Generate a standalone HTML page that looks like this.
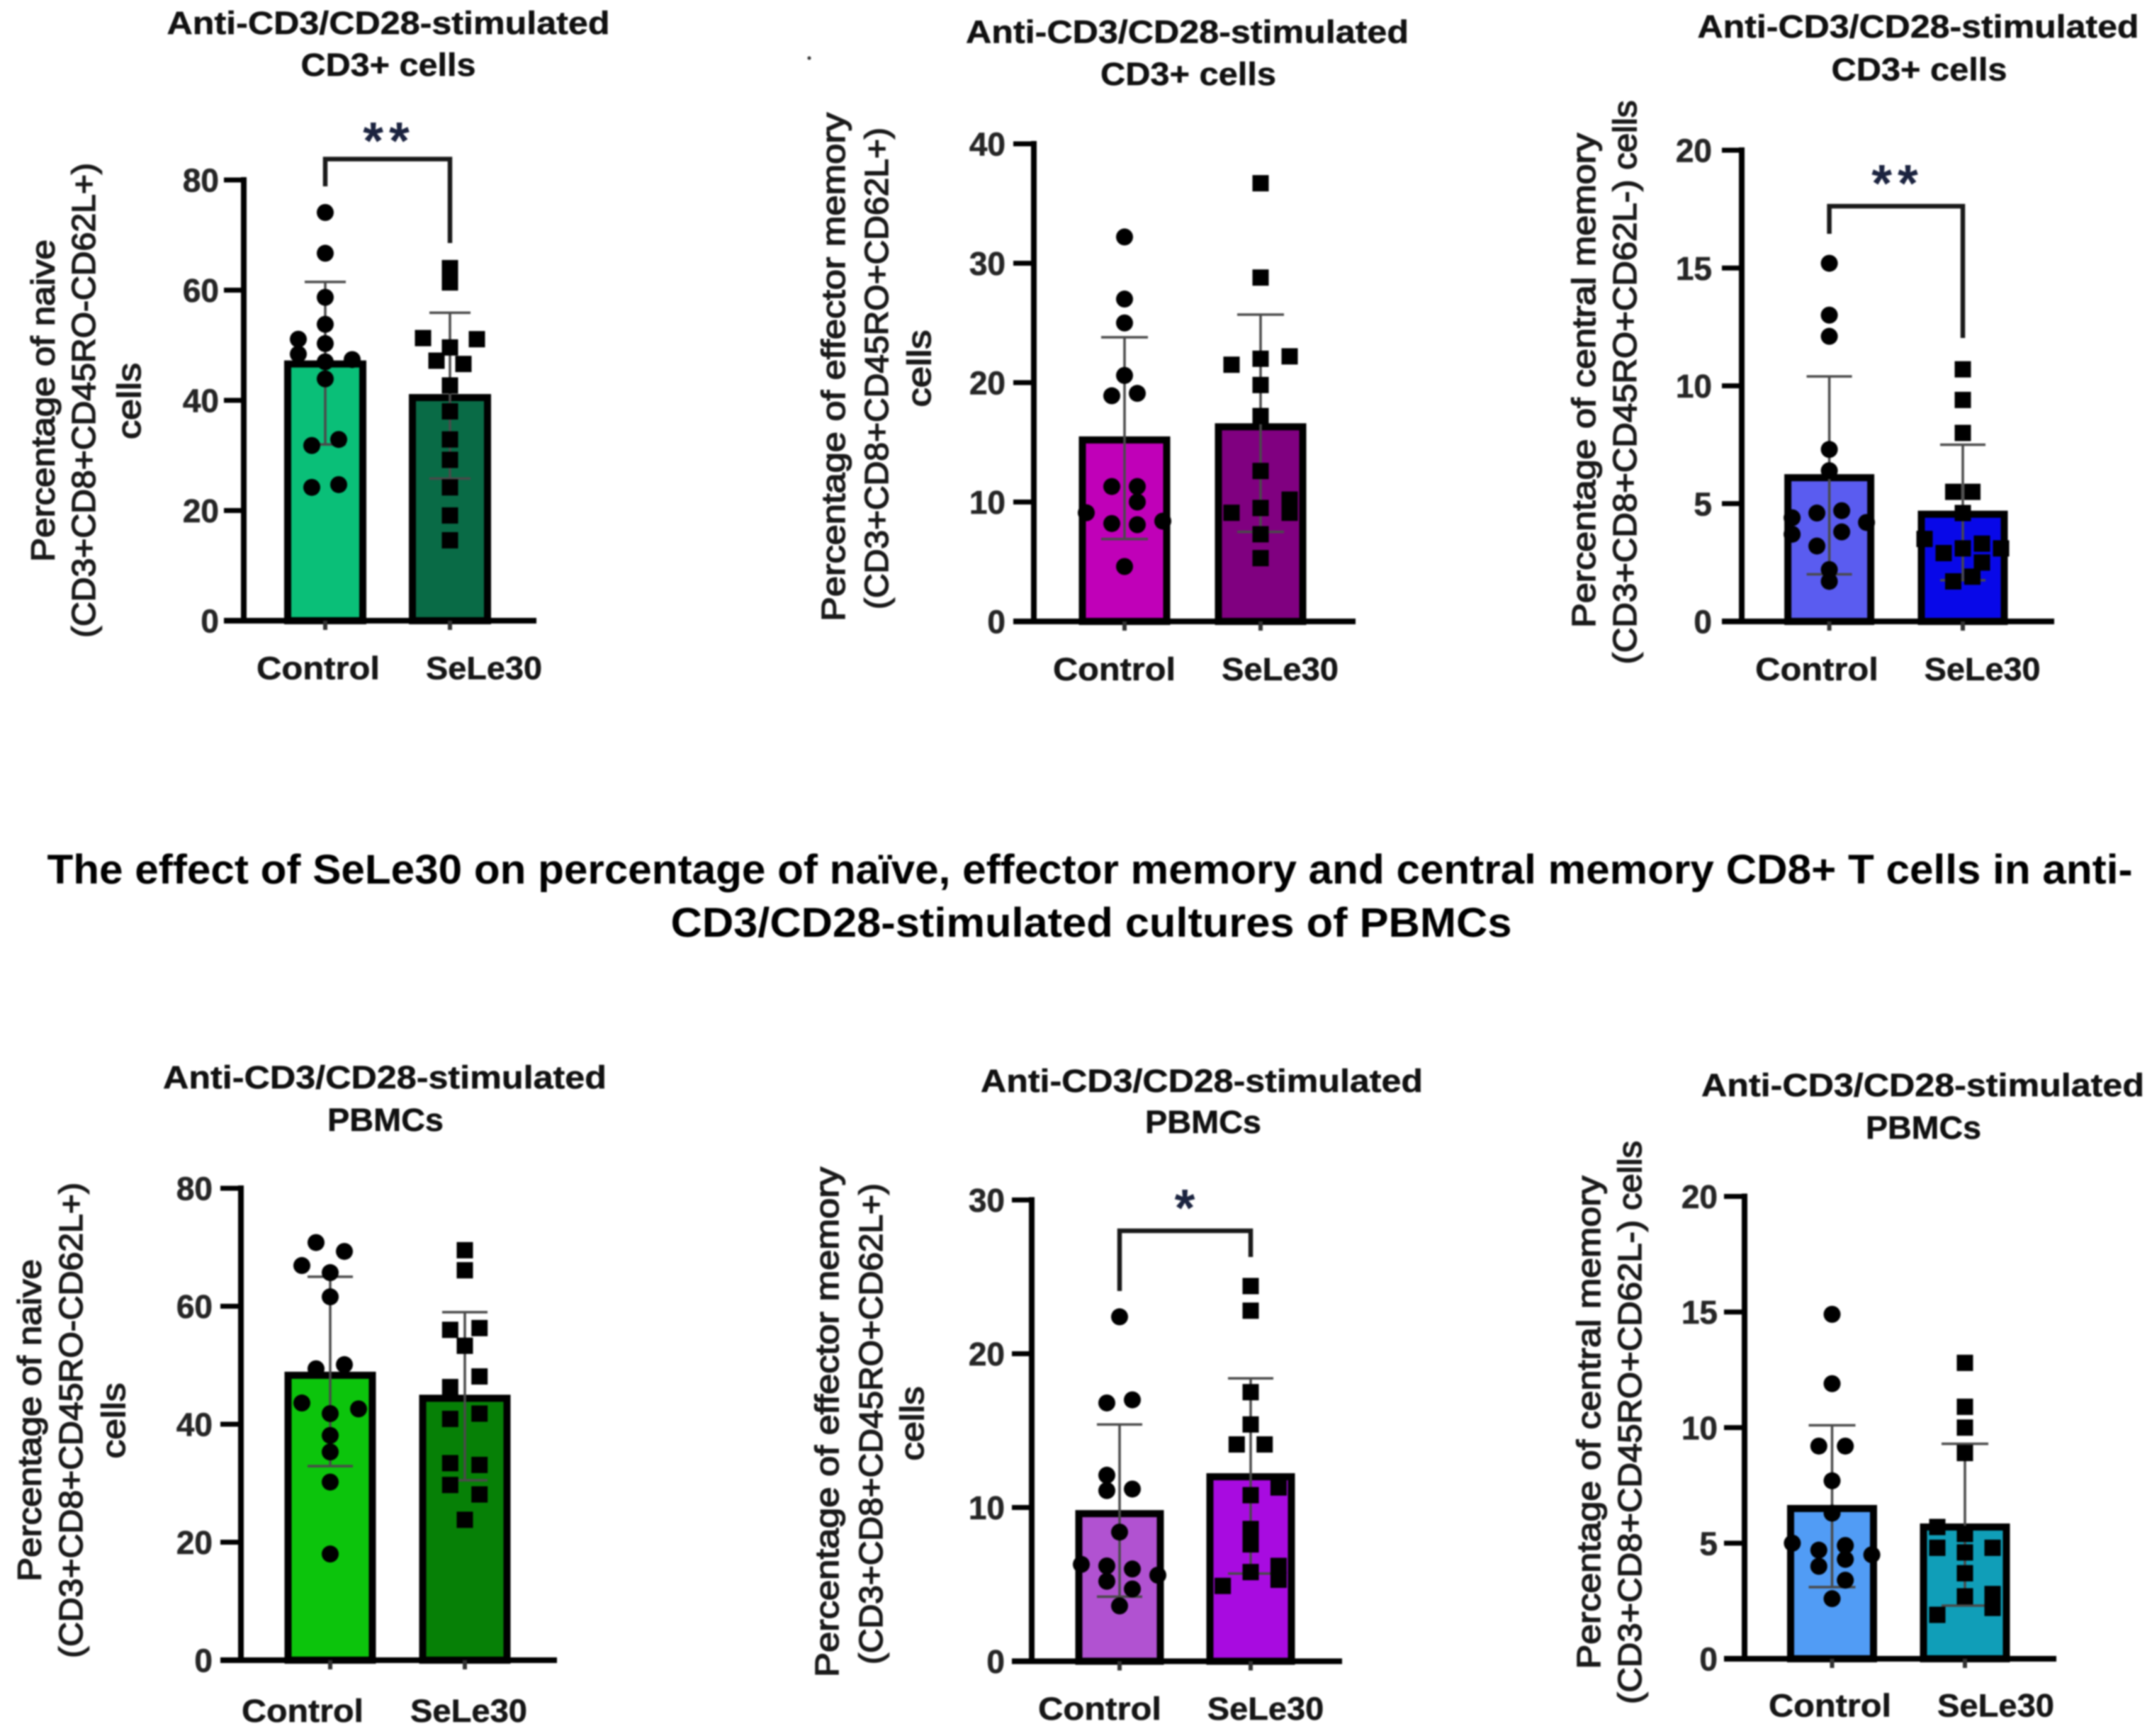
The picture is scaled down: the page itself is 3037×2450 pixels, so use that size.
<!DOCTYPE html>
<html lang="en">
<head>
<meta charset="utf-8">
<title>The effect of SeLe30 on naive, effector memory and central memory CD8+ T cells</title>
<style>
html,body{margin:0;padding:0;background:#fff;width:3037px;height:2450px;overflow:hidden}
svg{display:block;filter:blur(1px)}
text{font-family:"Liberation Sans",Arial,sans-serif}
.title{font-size:45px;font-weight:700;fill:#111;stroke:#111;stroke-width:.5px;text-anchor:middle}
.main{font-size:58px;font-weight:700;fill:#000;text-anchor:middle}
.ytitle{font-size:46px;font-weight:400;fill:#1a1a1a;stroke:#1a1a1a;stroke-width:1.5px;text-anchor:middle}
.tick{font-size:46px;font-weight:700;fill:#262626;stroke:#262626;stroke-width:.6px;text-anchor:end}
.cat{font-size:45px;font-weight:700;fill:#161616;stroke:#161616;stroke-width:.5px;text-anchor:middle}
.star{font-size:74px;font-weight:700;fill:#1c2440;text-anchor:middle}
</style>
</head>
<body>
<svg id="figure" xmlns="http://www.w3.org/2000/svg" width="3037" height="2450" viewBox="0 0 3037 2450">
  <rect x="0" y="0" width="3037" height="2450" fill="#fff"/>
  <circle cx="1142" cy="82" r="2.5" fill="#333"/>

  <text class="main" x="1538" y="1247" textLength="2943" lengthAdjust="spacingAndGlyphs">The effect of SeLe30 on percentage of naïve, effector memory and central memory CD8+ T cells in anti-</text>
  <text class="main" x="1540" y="1322" textLength="1187" lengthAdjust="spacingAndGlyphs">CD3/CD28-stimulated cultures of PBMCs</text>

  <!-- panel 1 text -->
  <text class="title" x="548" y="48" textLength="625" lengthAdjust="spacingAndGlyphs">Anti-CD3/CD28-stimulated</text>
  <text class="title" x="548" y="107" textLength="247" lengthAdjust="spacingAndGlyphs">CD3+ cells</text>
  <text class="ytitle" transform="translate(76.5,565.5) rotate(-90)" textLength="455" lengthAdjust="spacingAndGlyphs">Percentage of naive</text>
  <text class="ytitle" transform="translate(134,565) rotate(-90)" textLength="670" lengthAdjust="spacingAndGlyphs">(CD3+CD8+CD45RO-CD62L+)</text>
  <text class="ytitle" transform="translate(198,566) rotate(-90)" textLength="108" lengthAdjust="spacingAndGlyphs">cells</text>
  <text class="star" x="549" y="224" letter-spacing="8">**</text>

  <!-- panel 2 text -->
  <text class="title" x="1675.5" y="60.5" textLength="625" lengthAdjust="spacingAndGlyphs">Anti-CD3/CD28-stimulated</text>
  <text class="title" x="1677" y="120" textLength="248" lengthAdjust="spacingAndGlyphs">CD3+ cells</text>
  <text class="ytitle" transform="translate(1192,518) rotate(-90)" textLength="718" lengthAdjust="spacingAndGlyphs">Percentage of effector memory</text>
  <text class="ytitle" transform="translate(1253,520) rotate(-90)" textLength="680" lengthAdjust="spacingAndGlyphs">(CD3+CD8+CD45RO+CD62L+)</text>
  <text class="ytitle" transform="translate(1313,520) rotate(-90)" textLength="109" lengthAdjust="spacingAndGlyphs">cells</text>

  <!-- panel 3 text -->
  <text class="title" x="2707" y="53" textLength="623" lengthAdjust="spacingAndGlyphs">Anti-CD3/CD28-stimulated</text>
  <text class="title" x="2708.5" y="113.5" textLength="248" lengthAdjust="spacingAndGlyphs">CD3+ cells</text>
  <text class="ytitle" transform="translate(2251,537) rotate(-90)" textLength="698" lengthAdjust="spacingAndGlyphs">Percentage of central memory</text>
  <text class="ytitle" transform="translate(2309,539.5) rotate(-90)" textLength="796" lengthAdjust="spacingAndGlyphs">(CD3+CD8+CD45RO+CD62L-) cells</text>
  <text class="star" x="2678" y="284" letter-spacing="8">**</text>

  <!-- panel 4 text -->
  <text class="title" x="543" y="1536" textLength="626" lengthAdjust="spacingAndGlyphs">Anti-CD3/CD28-stimulated</text>
  <text class="title" x="544" y="1596" textLength="164" lengthAdjust="spacingAndGlyphs">PBMCs</text>
  <text class="ytitle" transform="translate(57.4,2004.5) rotate(-90)" textLength="455" lengthAdjust="spacingAndGlyphs">Percentage of naive</text>
  <text class="ytitle" transform="translate(116,2004.5) rotate(-90)" textLength="671" lengthAdjust="spacingAndGlyphs">(CD3+CD8+CD45RO-CD62L+)</text>
  <text class="ytitle" transform="translate(176,2005) rotate(-90)" textLength="107" lengthAdjust="spacingAndGlyphs">cells</text>

  <!-- panel 5 text -->
  <text class="title" x="1696" y="1541" textLength="624" lengthAdjust="spacingAndGlyphs">Anti-CD3/CD28-stimulated</text>
  <text class="title" x="1698" y="1599" textLength="164" lengthAdjust="spacingAndGlyphs">PBMCs</text>
  <text class="ytitle" transform="translate(1183,2007) rotate(-90)" textLength="720" lengthAdjust="spacingAndGlyphs">Percentage of effector memory</text>
  <text class="ytitle" transform="translate(1245,2009.5) rotate(-90)" textLength="679" lengthAdjust="spacingAndGlyphs">(CD3+CD8+CD45RO+CD62L+)</text>
  <text class="ytitle" transform="translate(1303,2009) rotate(-90)" textLength="105" lengthAdjust="spacingAndGlyphs">cells</text>
  <text class="star" x="1672" y="1730">*</text>

  <!-- panel 6 text -->
  <text class="title" x="2713.5" y="1547" textLength="625" lengthAdjust="spacingAndGlyphs">Anti-CD3/CD28-stimulated</text>
  <text class="title" x="2714.5" y="1607" textLength="163" lengthAdjust="spacingAndGlyphs">PBMCs</text>
  <text class="ytitle" transform="translate(2258,2007.5) rotate(-90)" textLength="696" lengthAdjust="spacingAndGlyphs">Percentage of central memory</text>
  <text class="ytitle" transform="translate(2316,2007.5) rotate(-90)" textLength="795" lengthAdjust="spacingAndGlyphs">(CD3+CD8+CD45RO+CD62L-) cells</text>

  <g id="plots"></g>
</svg>

<script>
// Shared labels
const categories = ['Control', 'SeLe30'];

// Panel 1: naive, CD3+ cells
const p1Ticks = [0, 20, 40, 60, 80];
const p1Means = [46.6, 40.5];
const p1ErrHigh = [61.5, 55.9];
const p1ErrLow = [32, 25.8];
const p1Control = [74.1, 66.7, 58.7, 53.8, 51.1, 50.3, 48.4, 47.4, 47, 43.9, 32.9, 31.8, 24.7, 24.2];
const p1ControlSlots = [0, 0, 0, 0, -2, 0, -2, 2, 0, 0, 1, -1, 1, -1];
const p1Sele = [64, 61.4, 51.3, 51.1, 49.6, 47.2, 46.6, 42.7, 38, 32.9, 29.2, 24.2, 19.1, 14.6];
const p1SeleSlots = [0, 0, -2, 2, 0, -1, 1, 0, 0, 0, 0, 0, 0, 0];

// Panel 2: effector memory, CD3+ cells
const p2Ticks = [0, 10, 20, 30, 40];
const p2Means = [15.2, 16.3];
const p2ErrHigh = [23.8, 25.7];
const p2ErrLow = [6.9, 7.5];
const p2Control = [32.2, 27, 25, 20.6, 18.9, 19.1, 11.3, 11.3, 10, 9.1, 8.2, 8.1, 8.4, 4.6];
const p2ControlSlots = [0, 0, 0, 0, -1, 1, -1, 1, 1, -3, -1, 1, 3, 0];
const p2Sele = [36.7, 28.8, 21.5, 22, 22.2, 19.8, 17.2, 12.6, 10.2, 9.1, 9.1, 9.5, 7.3, 5.3];
const p2SeleSlots = [0, 0, -2, 0, 2, 0, 0, 0, 2, 2, -2, 0, 0, 0];

// Panel 3: central memory, CD3+ cells
const p3Ticks = [0, 5, 10, 15, 20];
const p3Means = [6.1, 4.55];
const p3ErrHigh = [10.4, 7.5];
const p3ErrLow = [2, 1.75];
const p3Control = [15.2, 13, 12.1, 7.3, 6.4, 4.4, 4.6, 4.7, 4.2, 3.7, 3.8, 3.2, 2.2, 1.7];
const p3ControlSlots = [0, 0, 0, 0, 0, -3, -1, 1, 3, -3, 1, -1, 0, 0];
const p3Sele = [10.7, 9.4, 8, 5.5, 5.5, 4.6, 3.5, 2.9, 3.1, 3.3, 3.1, 2.5, 1.9, 1.7];
const p3SeleSlots = [0, 0, 0, -1, 1, 0, -4, -2, 0, 2, 4, 2, 1, -1];

// Panel 4: naive, PBMCs
const p4Ticks = [0, 20, 40, 60, 80];
const p4Means = [48.3, 44.4];
const p4ErrHigh = [65, 59];
const p4ErrLow = [32.9, 30.5];
const p4Control = [70.8, 69.3, 66.9, 65.7, 61.6, 49.4, 50.1, 43.6, 42.6, 41.8, 38.1, 35.3, 30.2, 18];
const p4ControlSlots = [-1, 1, -2, 0, 0, -1, 1, -2, 2, 0, 0, 0, 0, 0];
const p4Sele = [69.5, 66.1, 56, 56.3, 53.3, 48.1, 46.3, 40.9, 41.8, 33.4, 33.1, 29.7, 28.1, 23.8];
const p4SeleSlots = [0, 0, -1, 1, 0, 1, -1, -1, 1, -1, 1, -1, 1, 0];

// Panel 5: effector memory, PBMCs
const p5Ticks = [0, 10, 20, 30];
const p5Means = [9.6, 12];
const p5ErrHigh = [15.4, 18.4];
const p5ErrLow = [4.2, 5.7];
const p5Control = [22.4, 16.8, 17, 12.1, 11.1, 11.2, 8.4, 6.3, 6.2, 6, 5.6, 5.2, 4.7, 3.6];
const p5ControlSlots = [0, -1, 1, -1, -1, 1, 0, -3, -1, 1, 3, -1, 1, 0];
const p5Sele = [24.4, 22.8, 17.5, 15.4, 14.1, 14.1, 11.3, 10.8, 8.6, 7.6, 6.2, 5.8, 5.3, 4.9];
const p5SeleSlots = [0, 0, 0, 0, -1, 1, 2, 0, 0, 0, 2, 0, 2, -2];

// Panel 6: central memory, PBMCs
const p6Ticks = [0, 5, 10, 15, 20];
const p6Means = [6.5, 5.7];
const p6ErrHigh = [10.1, 9.3];
const p6ErrLow = [3.1, 2.3];
const p6Control = [14.9, 11.9, 9.2, 9.2, 7.7, 6.3, 5, 4.7, 4.9, 4.5, 4.3, 4, 3.4, 2.6];
const p6ControlSlots = [0, 0, -1, 1, 0, 0, -3, -1, 1, 3, 1, -1, 1, 0];
const p6Sele = [12.8, 10.9, 10, 8.9, 5.7, 5.4, 4.8, 4.8, 4.6, 3.7, 2.8, 2.7, 2.2, 1.9];
const p6SeleSlots = [0, 0, 0, 0, -1, 0, -1, 1, 0, 0, 1, 0, 1, -1];

// Layout of each panel (pixels), kept apart from the values above
const panels = [
  {n:1, ticks:p1Ticks, means:p1Means, hi:p1ErrHigh, lo:p1ErrLow, pts:[p1Control,p1Sele], slots:[p1ControlSlots,p1SeleSlots],
   axisX:344, y0:876, yTop:254, xEnd:757, tickL:316, cx:[459,635], barW:106, capH:29, labelR:309, step:[19,19],
   fills:['#0abf78','#096b46'], catX:[449,683], catW:[174,164], catY:958.5, bracket:{top:224.5, l:263, r:343}},
  {n:2, ticks:p2Ticks, means:p2Means, hi:p2ErrHigh, lo:p2ErrLow, pts:[p2Control,p2Sele], slots:[p2ControlSlots,p2SeleSlots],
   axisX:1459, y0:877, yTop:203, xEnd:1913, tickL:1430, cx:[1587,1779], barW:119, capH:33, labelR:1419, step:[18,20.5],
   fills:['#c000b8','#800080'], catX:[1572.5,1806.5], catW:[173,165], catY:960, bracket:null},
  {n:3, ticks:p3Ticks, means:p3Means, hi:p3ErrHigh, lo:p3ErrLow, pts:[p3Control,p3Sele], slots:[p3ControlSlots,p3SeleSlots],
   axisX:2458, y0:877, yTop:212, xEnd:2899, tickL:2430, cx:[2581.6,2770], barW:117, capH:32, labelR:2416, step:[17.5,13.5],
   fills:['#5a5cf0','#0808e8'], catX:[2564,2797.6], catW:[173.6,164], catY:960, bracket:{top:291, l:330, r:477}},
  {n:4, ticks:p4Ticks, means:p4Means, hi:p4ErrHigh, lo:p4ErrLow, pts:[p4Control,p4Sele], slots:[p4ControlSlots,p4SeleSlots],
   axisX:340, y0:2343, yTop:1677, xEnd:786, tickL:311, cx:[466,656], barW:119, capH:32, labelR:300, step:[20,20.7],
   fills:['#0cc40c','#068006'], catX:[427,661.5], catW:[172,165], catY:2430, bracket:null},
  {n:5, ticks:p5Ticks, means:p5Means, hi:p5ErrHigh, lo:p5ErrLow, pts:[p5Control,p5Sele], slots:[p5ControlSlots,p5SeleSlots],
   axisX:1456, y0:2344.5, yTop:1693.5, xEnd:1894, tickL:1428, cx:[1580,1765], barW:115, capH:32, labelR:1418, step:[18,19.7],
   fills:['#b152d1','#a80be0'], catX:[1552,1786], catW:[174,164.5], catY:2427, bracket:{top:1737, l:1822, r:1774}},
  {n:6, ticks:p6Ticks, means:p6Means, hi:p6ErrHigh, lo:p6ErrLow, pts:[p6Control,p6Sele], slots:[p6ControlSlots,p6SeleSlots],
   axisX:2462, y0:2341, yTop:1688.5, xEnd:2902, tickL:2433, cx:[2585.5,2773], barW:117, capH:33, labelR:2424, step:[18.7,39],
   fills:['#519cf5','#109eb8'], catX:[2582.5,2816.5], catW:[173,165], catY:2422.5, bracket:null}
];

const NS = 'http://www.w3.org/2000/svg';
const root = document.getElementById('plots');

function shape(parent, tag, props) {
  const el = document.createElementNS(NS, tag);
  for (const k in props) el.setAttribute(k, props[k]);
  parent.appendChild(el);
  return el;
}

panels.forEach(function (p) {
  const yScale = function (v) {
    const max = p.ticks[p.ticks.length - 1];
    return p.y0 - (v / max) * (p.y0 - p.yTop);
  };
  const xScale = function (i) { return p.cx[0] + i * (p.cx[1] - p.cx[0]); };

  const g = shape(root, 'g', {});
  
  

  // Bars
  categories.forEach(function (c, i) {
    const bar = shape(g, 'rect', {x: xScale(i) - p.barW / 2, y: yScale(p.means[i]), width: p.barW, height: p.y0 - yScale(p.means[i]), fill: p.fills[i], stroke: '#000', 'stroke-width': 10});
    
    
  });

  // Error bars
  categories.forEach(function (c, i) {
    const x = xScale(i), yh = yScale(p.hi[i]), yl = yScale(p.lo[i]);
    const err = shape(g, 'path', {d: 'M' + (x - p.capH) + ' ' + yh + 'H' + (x + p.capH) + 'M' + x + ' ' + yh + 'V' + yl + 'M' + (x - p.capH) + ' ' + yl + 'H' + (x + p.capH), fill: 'none', stroke: '#4a4a4a', 'stroke-width': 3.5});
    
    
  });

  // Points: circles for Control, squares for SeLe30
  categories.forEach(function (c, i) {
    p.pts[i].forEach(function (v, j) {
      const x = xScale(i) + p.slots[i][j] * p.step[i], y = yScale(v);
      if (i === 0) {
        const dot = shape(g, 'circle', {cx: x, cy: y, r: 12, fill: '#000'});
        
        
      } else {
        const sq = shape(g, 'rect', {x: x - 11.5, y: y - 11.5, width: 23, height: 23, fill: '#000'});
        
        
      }
    });
  });

  // Axes
  const yAxis = shape(g, 'line', {x1: p.axisX, x2: p.axisX, y1: p.yTop - 4, y2: p.y0 + 4, stroke: '#000', 'stroke-width': 8});
  
  
  const xAxis = shape(g, 'line', {x1: p.tickL, x2: p.xEnd, y1: p.y0, y2: p.y0, stroke: '#000', 'stroke-width': 8});
  
  

  // Y ticks and labels
  p.ticks.forEach(function (t) {
    const y = yScale(t);
    if (t !== 0) {
      const mark = shape(g, 'line', {x1: p.tickL, x2: p.axisX, y1: y, y2: y, stroke: '#000', 'stroke-width': 7});
      
      
    }
    const lab = shape(g, 'text', {class: 'tick', x: p.labelR, y: y + 16.5});
    lab.textContent = String(t);
    
    
  });

  // X ticks and category labels
  categories.forEach(function (c, i) {
    const mark = shape(g, 'line', {x1: xScale(i), x2: xScale(i), y1: p.y0, y2: p.y0 + 13, stroke: '#333', 'stroke-width': 6});
    
    
    const lab = shape(g, 'text', {class: 'cat', x: p.catX[i], y: p.catY, textLength: p.catW[i], lengthAdjust: 'spacingAndGlyphs'});
    lab.textContent = c;
    
    
  });

  // Significance bracket
  if (p.bracket) {
    const br = shape(g, 'path', {d: 'M' + xScale(0) + ' ' + p.bracket.l + 'V' + p.bracket.top + 'H' + xScale(1) + 'V' + p.bracket.r, fill: 'none', stroke: '#1a1a1a', 'stroke-width': 6.5});
    
    
  }
});
</script>
</body>
</html>
